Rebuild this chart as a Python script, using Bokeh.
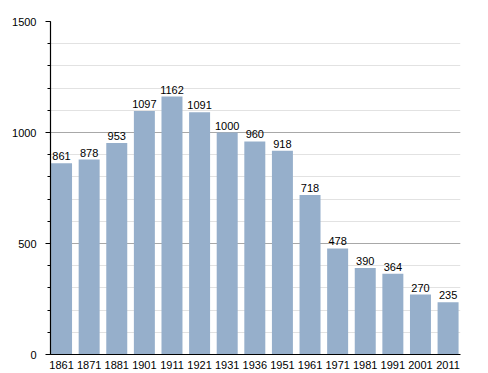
from bokeh.plotting import figure
from bokeh.models import ColumnDataSource, Range1d, FixedTicker, LabelSet
from bokeh.core.properties import value
from bokeh.embed import file_html
from bokeh.resources import INLINE

years = ["1861", "1871", "1881", "1901", "1911", "1921", "1931", "1936",
         "1951", "1961", "1971", "1981", "1991", "2001", "2011"]
population = [861, 878, 953, 1097, 1162, 1091, 1000, 960, 918, 718, 478, 390, 364, 270, 235]
y_ticks = [0, 500, 1000, 1500]

xs = list(range(len(years)))
src = ColumnDataSource(dict(x=xs, top=population, label=[str(v) for v in population]))

p = figure(width=480, height=371, output_backend="svg", toolbar_location=None,
           x_range=Range1d(-0.4, len(years) - 0.55), y_range=Range1d(0, 1500),
           min_border_left=50, min_border_right=20, min_border_top=21, min_border_bottom=5)
p.outline_line_color = None
p.background_fill_color = "white"
p.border_fill_color = "white"

p.vbar(x="x", top="top", width=0.76, source=src, fill_color="#96afcb", line_color=None)

labels = LabelSet(x="x", y="top", text="label", source=src, text_align="center",
                  text_baseline="bottom", y_offset=3, text_font_size="11px",
                  text_font=value("Liberation Sans"), text_color="black")
p.add_layout(labels)

# x axis
p.xaxis.ticker = FixedTicker(ticks=xs)
p.xaxis.major_label_overrides = {i: y for i, y in enumerate(years)}
p.xaxis.major_tick_line_color = None
p.xaxis.minor_tick_line_color = None
p.xaxis.axis_line_color = "black"
p.xaxis.axis_line_width = 1.2
p.xaxis.major_label_text_font = "Liberation Sans"
p.xaxis.major_label_text_font_size = "11px"
p.xaxis.major_label_text_color = "black"
p.xaxis.major_label_standoff = 0

# y axis
p.yaxis.ticker = FixedTicker(ticks=y_ticks, minor_ticks=list(range(0, 1501, 100)))
p.yaxis.axis_line_color = "black"
p.yaxis.axis_line_width = 1.2
p.yaxis.major_tick_in = 0
p.yaxis.major_tick_out = 5
p.yaxis.minor_tick_in = 0
p.yaxis.minor_tick_out = 3
p.yaxis.major_label_text_font = "Liberation Sans"
p.yaxis.major_label_text_font_size = "11px"
p.yaxis.major_label_text_color = "black"
p.yaxis.major_label_standoff = 9

p.xgrid.grid_line_color = None
p.ygrid.grid_line_color = "#a8a8a8"
p.ygrid.grid_line_width = 1
p.ygrid.minor_grid_line_color = "#e2e2e2"
p.ygrid.level = "underlay"

open("out.html", "w").write(file_html(p, INLINE))
